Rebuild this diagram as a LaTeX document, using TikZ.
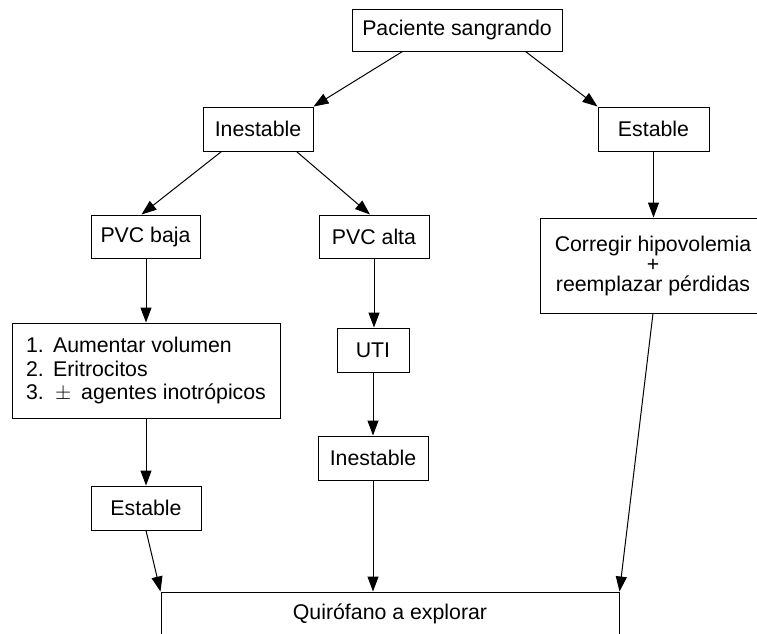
\documentclass[tikz,border=0pt]{standalone}
\usepackage{fontspec}
\setmainfont{Liberation Sans}
\usetikzlibrary{arrows.meta}
\newcommand\txtsize{\fontsize{21.3}{22}\selectfont}
\begin{document}
\begin{tikzpicture}[x=1pt, y=-1pt,
  box/.style={draw, line width=1pt, inner sep=0pt, align=center, font=\txtsize},
  arr/.style={line width=1pt, -{Triangle[length=15pt,width=11pt]}},
  link/.style={line width=1pt}]
\useasboundingbox (0,0) rectangle (757,633);
\clip (0,0) rectangle (757,633);

% boxes
\node[box, minimum width=210pt, minimum height=42pt] (P)  at (457,30)    {Paciente sangrando};
\node[box, minimum width=110pt, minimum height=44pt] (I1) at (258,129)   {Inestable};
\node[box, minimum width=111pt, minimum height=44pt] (E1) at (653.5,129) {Estable};
\node[box, minimum width=109pt, minimum height=43pt] (B)  at (145.5,236.5) {PVC baja};
\node[box, minimum width=110pt, minimum height=43pt] (A)  at (374,236.5) {PVC alta};
\node[box, minimum width=226pt, minimum height=95pt,
      font=\fontsize{21.3}{20}\selectfont] (C) at (653,265.5)
      {Corregir hipovolemia\\+\\reemplazar pérdidas};
\node[box, minimum width=268pt, minimum height=95pt, align=left,
      font=\fontsize{21.3}{23.5}\selectfont] (L) at (146,370.5)
      {\makebox[27pt][l]{1.}Aumentar volumen\\
       \makebox[27pt][l]{2.}Eritrocitos\\
       \makebox[27pt][l]{3.}\hspace{2pt}$\pm$\hspace{10pt}agentes inotrópicos};
\node[box, minimum width=72pt,  minimum height=44pt] (U)  at (373,350)   {UTI};
\node[box, minimum width=110pt, minimum height=44pt] (I2) at (373,458)   {Inestable};
\node[box, minimum width=110pt, minimum height=44pt] (E2) at (146,508)   {Estable};
\node[box, minimum width=458pt, minimum height=44pt] (Q)  at (390,614)   {Quirófano a explorar};

% connectors
\draw[arr] ([xshift=51pt]P.south west) -- (I1.north east);
\draw[arr] ([xshift=-37pt]P.south east) -- (E1.north west);
\draw[arr] ([xshift=19pt]I1.south west) -- ([xshift=-4pt]B.north);
\draw[arr] ([xshift=-17pt]I1.south east) -- ([xshift=-4pt]A.north);
\draw[arr] (E1.south) -- (E1.south |- C.north);
\draw[arr] (B.south -| L.north) -- (L.north);
\draw[arr] (A.south) -- (A.south |- U.north);
\draw[arr] (U.south) -- (U.south |- I2.north);
\draw[arr] (L.south) -- (L.south |- E2.north);
\draw[arr] (E2.south) -- (Q.north west);
\draw[arr] (I2.south) -- (I2.south |- Q.north);
\draw[arr] (C.south) -- (Q.north east);
\end{tikzpicture}
\end{document}
